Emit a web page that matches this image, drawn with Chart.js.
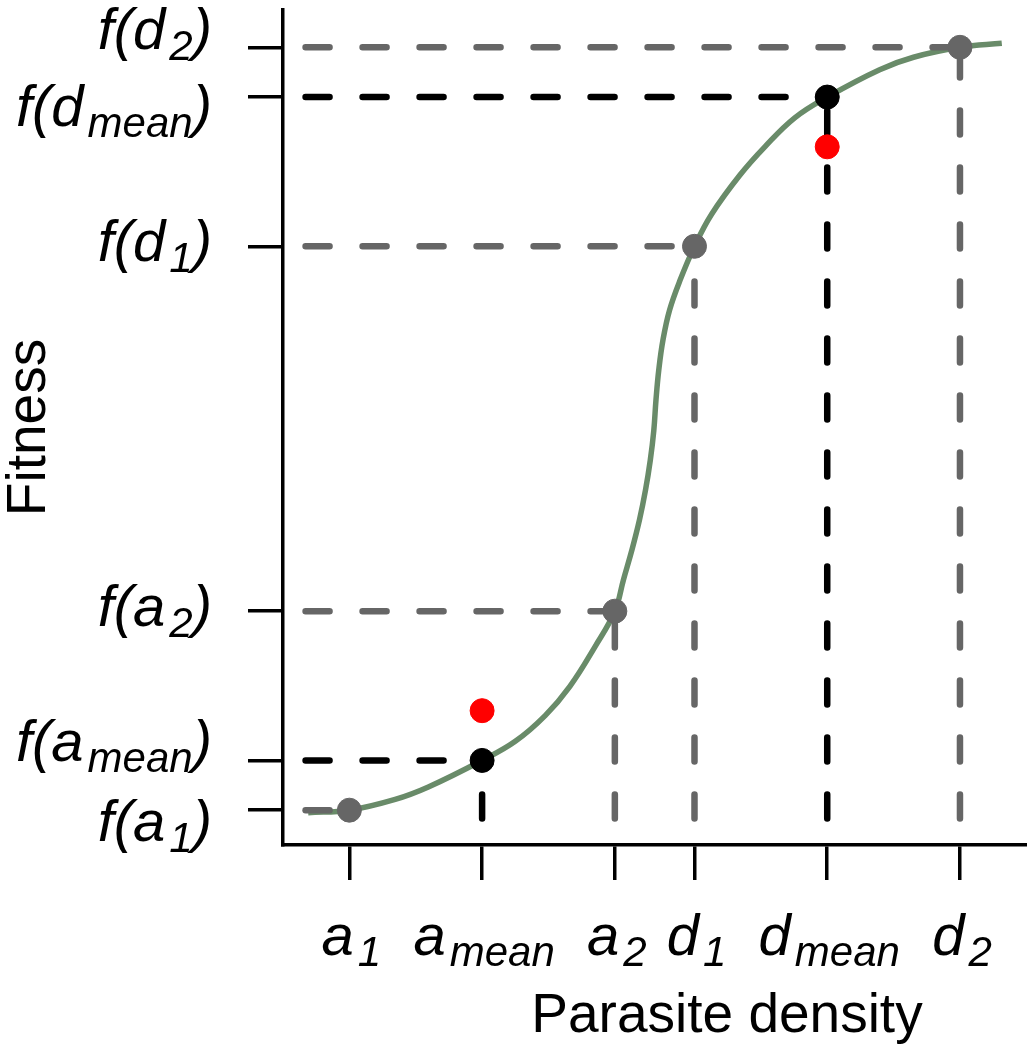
<!DOCTYPE html>
<html>
<head>
<meta charset="utf-8">
<script src="https://cdn.jsdelivr.net/npm/chart.js@4.4.0/dist/chart.umd.min.js"></script>
<style>
html, body { margin: 0; padding: 0; background: #fff; overflow: hidden; }
canvas { display: block; }
</style>
</head>
<body>
<canvas id="chart" width="1027" height="1050"></canvas>
<script>
// the six densities marked on the x axis and their fitness on the y axis
const tickLetters = ["a", "a", "a", "d", "d", "d"];
const tickSubs = ["1", "mean", "2", "1", "mean", "2"];
const densityTicks = [1, 3, 5, 6.2, 8.2, 10.2];
const fitnessTicks = [0.04, 0.10, 0.28, 0.72, 0.90, 0.96];
// mean fitness of (a1, a2) and (d1, d2) -> red dots
const meanFitness = [0.16, 0.84];

// fitness curve
const curveX = [0.38, 1.0, 1.69, 2.19, 3.0, 3.5, 3.95, 4.32, 4.7, 5.0, 5.13, 5.258, 5.371, 5.462, 5.534, 5.587, 5.62, 5.662, 5.725, 5.824, 5.982, 6.2, 6.46, 6.885, 7.26, 7.71, 8.2, 8.99, 9.5, 10.2, 10.83];
const curveY = [0.037, 0.04, 0.053, 0.068, 0.10, 0.123, 0.154, 0.189, 0.237, 0.28, 0.318, 0.354, 0.39, 0.426, 0.462, 0.498, 0.535, 0.571, 0.607, 0.643, 0.679, 0.72, 0.759, 0.806, 0.84, 0.875, 0.90, 0.933, 0.948, 0.96, 0.965];

// where the guide lines start
const guideStartX = 0.34;
const guideStartY = 0.03;

const GREEN = "#698B69";
const GREY = "#666666";
const BLACK = "#000000";
const RED = "#ff0000";
const FONT = '"Liberation Sans", Arial, Helvetica, sans-serif';

const isMean = i => tickSubs[i] === "mean";

const datasets = [];

// red dots
datasets.push({
	data: [
		{ x: densityTicks[1], y: meanFitness[0] },
		{ x: densityTicks[4], y: meanFitness[1] }
	],
	showLine: false,
	pointRadius: 12,
	pointBackgroundColor: RED,
	pointBorderColor: RED,
	pointBorderWidth: 1
});

// points on the curve
for (let i = 0; i < densityTicks.length; i++) {
	const col = isMean(i) ? BLACK : GREY;
	datasets.push({
		data: [{ x: densityTicks[i], y: fitnessTicks[i] }],
		showLine: false,
		pointRadius: 12,
		pointBackgroundColor: col,
		pointBorderColor: col,
		pointBorderWidth: 1
	});
}

// dashed guides
for (let i = 0; i < densityTicks.length; i++) {
	const col = isMean(i) ? BLACK : GREY;
	const common = {
		showLine: true,
		pointRadius: 0,
		borderColor: col,
		borderWidth: 6.5,
		borderDash: [24, 33],
		borderCapStyle: "round"
	};
	datasets.push(Object.assign({
		data: [{ x: guideStartX, y: fitnessTicks[i] }, { x: densityTicks[i], y: fitnessTicks[i] }]
	}, common));
	datasets.push(Object.assign({
		data: [{ x: densityTicks[i], y: guideStartY }, { x: densityTicks[i], y: fitnessTicks[i] }]
	}, common));
}

// the curve itself
datasets.push({
	data: curveX.map((x, i) => ({ x: x, y: curveY[i] })),
	showLine: true,
	pointRadius: 0,
	borderColor: GREEN,
	borderWidth: 5.5,
	tension: 0.4
});

// italic labels with a subscript, e.g. f(d_mean)
function drawMath(ctx, parts, x, y, align) {
	const mainFont = "italic 58px " + FONT;
	const subFont = "italic 42px " + FONT;
	let total = 0;
	const widths = parts.map(p => {
		ctx.font = p.sub ? subFont : mainFont;
		const w = ctx.measureText(p.text).width + (p.sub ? 4 : 0);
		total += w;
		return w;
	});
	let cx = align === "center" ? x - total / 2 : x - total;
	ctx.textAlign = "left";
	ctx.textBaseline = "alphabetic";
	parts.forEach((p, i) => {
		ctx.font = p.sub ? subFont : mainFont;
		ctx.fillText(p.text, cx + (p.sub ? 4 : 0), p.sub ? y + 11 : y);
		cx += widths[i];
	});
}

const yLabelNudge = [16, -14, 0, 0, 14, -13];

const mathLabels = {
	id: "mathLabels",
	afterDraw(chart) {
		const ctx = chart.ctx;
		const area = chart.chartArea;
		const xs = chart.scales.x;
		const ys = chart.scales.y;
		ctx.save();
		ctx.fillStyle = BLACK;
		for (let i = 0; i < densityTicks.length; i++) {
			drawMath(ctx, [
				{ text: tickLetters[i], sub: false },
				{ text: tickSubs[i], sub: true }
			], xs.getPixelForValue(densityTicks[i]) + 2, area.bottom + 110, "center");
			drawMath(ctx, [
				{ text: "f(" + tickLetters[i], sub: false },
				{ text: tickSubs[i], sub: true },
				{ text: ")", sub: false }
			], area.left - 71, ys.getPixelForValue(fitnessTicks[i]) + 15 + yLabelNudge[i], "right");
		}
		// axis titles
		ctx.font = "55px " + FONT;
		ctx.textAlign = "center";
		ctx.textBaseline = "alphabetic";
		ctx.fillText("Parasite density", area.left + 444, area.bottom + 187);
		ctx.translate(45, (area.top + area.bottom) / 2);
		ctx.rotate(-Math.PI / 2);
		ctx.fillText("Fitness", 0, 0);
		ctx.restore();
	}
};

const axisStyle = {
	border: { display: true, color: BLACK, width: 3.5 },
	grid: {
		drawOnChartArea: false,
		drawTicks: true,
		tickLength: 35,
		color: BLACK,
		lineWidth: 3.5,
		tickColor: BLACK,
		tickWidth: 3.5
	},
	ticks: { display: false }
};

new Chart(document.getElementById("chart"), {
	type: "scatter",
	data: { datasets: datasets },
	options: {
		responsive: false,
		animation: false,
		layout: { autoPadding: false, padding: { top: 10, left: 0, right: 0, bottom: 0 } },
		plugins: { legend: { display: false }, tooltip: { enabled: false } },
		scales: {
			x: Object.assign({
				type: "linear",
				min: 0,
				max: 11.21,
				afterBuildTicks: s => { s.ticks = densityTicks.map(v => ({ value: v })); },
				afterFit: s => { s.height = 205; }
			}, axisStyle),
			y: Object.assign({
				type: "linear",
				min: -0.002,
				max: 1.005,
				afterBuildTicks: s => { s.ticks = fitnessTicks.map(v => ({ value: v })); },
				afterFit: s => { s.width = 283; }
			}, axisStyle)
		}
	},
	plugins: [mathLabels]
});
</script>
</body>
</html>
